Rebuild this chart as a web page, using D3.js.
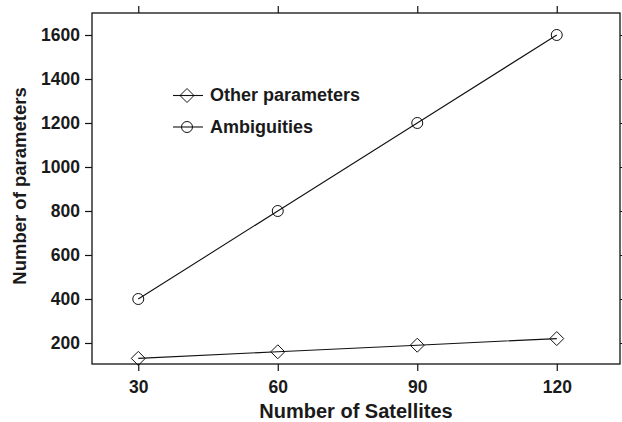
<!DOCTYPE html>
<html lang="en">
<head>
<meta charset="utf-8">
<title>Number of parameters</title>
<script src="https://cdn.jsdelivr.net/npm/d3@7"></script>
<style>
  body { margin: 0; background: #fff; overflow: hidden; }
  svg { display: block; }
  text { font-family: "Liberation Sans", Arial, sans-serif; font-weight: bold; fill: #1a1a1a; }
</style>
</head>
<body>
<script>
const satellites = [30, 60, 90, 120];
const otherParams = [130, 160, 190, 220];
const ambiguities = [400, 800, 1200, 1600];
const xTicks = [30, 60, 90, 120];
const yTicks = [200, 400, 600, 800, 1000, 1200, 1400, 1600];
const legendLabels = ["Other parameters", "Ambiguities"];

const width = 622, height = 422;
const box = {left: 92, right: 620, top: 13, bottom: 364};

const svg = d3.select("body").append("svg")
  .attr("width", width).attr("height", height);

const x = d3.scaleLinear().domain([20.05, 133.6]).range([box.left, box.right]);
const y = d3.scaleLinear().domain([104.5, 1700]).range([box.bottom, box.top]);

// panel frame
svg.append("rect")
  .attr("x", box.left).attr("y", box.top)
  .attr("width", box.right - box.left).attr("height", box.bottom - box.top)
  .attr("fill", "none").attr("stroke", "#111").attr("stroke-width", 1.3);

// axes (lattice style: ticks outward on all four sides, labels left/bottom)
const tickLen = 7;
const fmt = d3.format("d");
svg.append("g").attr("transform", `translate(0,${box.bottom})`)
  .call(d3.axisBottom(x).tickValues(xTicks).tickFormat(fmt).tickSize(tickLen).tickPadding(0))
  .call(g => g.select(".domain").remove())
  .call(g => g.selectAll("text").attr("font-size", 17.5).attr("dy", null).attr("y", 28.5));
svg.append("g").attr("transform", `translate(0,${box.top})`)
  .call(d3.axisTop(x).tickValues(xTicks).tickSize(tickLen).tickFormat(""))
  .call(g => g.select(".domain").remove());
svg.append("g").attr("transform", `translate(${box.left},0)`)
  .call(d3.axisLeft(y).tickValues(yTicks).tickFormat(fmt).tickSize(tickLen).tickPadding(5))
  .call(g => g.select(".domain").remove())
  .call(g => g.selectAll("text").attr("font-size", 17.5));
svg.append("g").attr("transform", `translate(${box.right},0)`)
  .call(d3.axisRight(y).tickValues(yTicks).tickSize(tickLen).tickFormat(""))
  .call(g => g.select(".domain").remove());
svg.selectAll(".tick line").attr("stroke", "#111").attr("stroke-width", 1.2);
svg.selectAll(".tick text").attr("fill", "#1a1a1a")
  .attr("font-family", "Liberation Sans, Arial, sans-serif").attr("font-weight", "bold");

// axis titles
svg.append("text")
  .attr("x", (box.left + box.right) / 2).attr("y", 418)
  .attr("text-anchor", "middle").attr("font-size", 20)
  .text("Number of Satellites");
svg.append("text")
  .attr("transform", `translate(26,186) rotate(-90)`)
  .attr("text-anchor", "middle").attr("font-size", 18.5)
  .text("Number of parameters");

const line = d3.line().x(d => x(d[0])).y(d => y(d[1]));
const diamond = (g, cx, cy) => g.append("path")
  .attr("d", `M${cx},${cy - 7}L${cx + 7},${cy}L${cx},${cy + 7}L${cx - 7},${cy}Z`)
  .attr("fill", "none").attr("stroke", "#111").attr("stroke-width", 1);
const circle = (g, cx, cy) => g.append("circle")
  .attr("cx", cx).attr("cy", cy).attr("r", 5.5)
  .attr("fill", "none").attr("stroke", "#111").attr("stroke-width", 1);

const series = [
  {values: otherParams, marker: diamond},
  {values: ambiguities, marker: circle}
];

series.forEach(s => {
  const pts = satellites.map((v, i) => [v, s.values[i]]);
  svg.append("path").attr("d", line(pts))
    .attr("fill", "none").attr("stroke", "#111").attr("stroke-width", 1.1);
  pts.forEach(p => s.marker(svg, x(p[0]), y(p[1])));
});

// legend
const legendY = [95.5, 127];
series.forEach((s, i) => {
  const ly = legendY[i];
  svg.append("line").attr("x1", 173).attr("x2", 203).attr("y1", ly).attr("y2", ly)
    .attr("stroke", "#111").attr("stroke-width", 1.1);
  s.marker(svg, 187, ly);
  svg.append("text").attr("x", 210).attr("y", ly).attr("dy", "0.33em")
    .attr("font-size", 18).text(legendLabels[i]);
});
</script>
</body>
</html>
